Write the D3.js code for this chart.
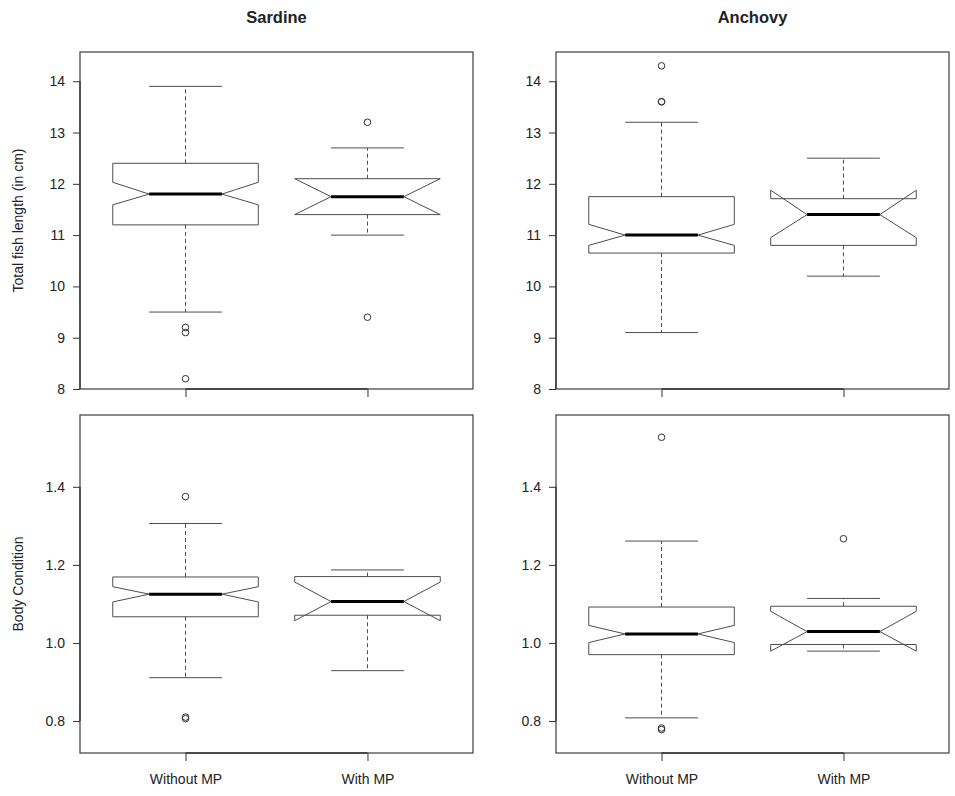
<!DOCTYPE html>
<html lang="en">
<head>
    <meta charset="UTF-8">
    <title>Notched boxplots</title>
    <script src="https://d3js.org/d3.v7.min.js"></script>
    <style>
        body { margin: 0; background: #fff; }
        text { font-family: 'Liberation Sans', Arial, Helvetica, sans-serif; fill: #222; }
    </style>
</head>
<body>
<script>
    // categories
    const groups = ["Without MP", "With MP"];
    const species = ["Sardine", "Anchovy"];

    // [lower whisker, Q1, median, Q3, upper whisker]
    const sardineLength = [[9.5, 11.2, 11.8, 12.4, 13.9], [11.0, 11.4, 11.75, 12.1, 12.7]];
    const anchovyLength = [[9.1, 10.65, 11.0, 11.75, 13.2], [10.2, 10.8, 11.4, 11.71, 12.5]];
    const sardineCond = [[0.911, 1.067, 1.125, 1.169, 1.306], [0.929, 1.071, 1.106, 1.17, 1.187]];
    const anchovyCond = [[0.808, 0.970, 1.023, 1.092, 1.261], [0.979, 0.996, 1.029, 1.094, 1.114]];

    // [lower notch, upper notch]
    const sardineLengthNotch = [[11.59, 12.03], [11.4, 12.1]];
    const anchovyLengthNotch = [[10.80, 11.21], [10.95, 11.875]];
    const sardineCondNotch = [[1.105, 1.144], [1.057, 1.156]];
    const anchovyCondNotch = [[1.001, 1.045], [0.979, 1.081]];

    // outliers
    const sardineLengthOut = [[9.2, 9.1, 8.2], [13.2, 9.4]];
    const anchovyLengthOut = [[14.3, 13.6, 13.6], []];
    const sardineCondOut = [[1.375, 0.81, 0.806], []];
    const anchovyCondOut = [[1.527, 0.782, 0.778], [1.267]];

    // y ticks
    const lengthTicks = [8, 9, 10, 11, 12, 13, 14];
    const condTicks = [0.8, 1.0, 1.2, 1.4];

    const panels = [
        {col: 0, row: 0, stats: sardineLength, notch: sardineLengthNotch, out: sardineLengthOut, title: species[0], ylab: "Total fish length (in cm)"},
        {col: 1, row: 0, stats: anchovyLength, notch: anchovyLengthNotch, out: anchovyLengthOut, title: species[1], ylab: null},
        {col: 0, row: 1, stats: sardineCond, notch: sardineCondNotch, out: sardineCondOut, title: null, ylab: "Body Condition"},
        {col: 1, row: 1, stats: anchovyCond, notch: anchovyCondNotch, out: anchovyCondOut, title: null, ylab: null}
    ];

    const colX = [[80, 473], [556, 949]];
    const rowY = [[52, 389], [415, 753]];
    const lineCol = "#4d4d4d";

    const svg = d3.select("body").append("svg")
        .attr("width", 955)
        .attr("height", 796);

    panels.forEach(function (p) {
        const [x0, x1] = colX[p.col];
        const [y0, y1] = rowY[p.row];

        const x = d3.scaleLinear().domain([0.42, 2.58]).range([x0, x1]);
        const y = p.row === 0
            ? d3.scaleLinear().domain([8, 14.57]).range([y1, y0])
            : d3.scaleLinear().domain([0.718, 1.584]).range([y1, y0]);
        const ticks = p.row === 0 ? lengthTicks : condTicks;
        const fmt = p.row === 0 ? d3.format("d") : d3.format(".1f");

        const g = svg.append("g");

        // boxes
        p.stats.forEach(function (s, i) {
            const c = i + 1;
            const [lo, q1, med, q3, hi] = s;
            const [nl, nh] = p.notch[i];
            const L = x(c - 0.4), R = x(c + 0.4);
            const iL = x(c - 0.2), iR = x(c + 0.2);

            // whiskers
            g.append("line")
                .attr("x1", x(c)).attr("x2", x(c))
                .attr("y1", y(q3)).attr("y2", y(hi))
                .attr("stroke", lineCol).attr("stroke-dasharray", "4,3");
            g.append("line")
                .attr("x1", x(c)).attr("x2", x(c))
                .attr("y1", y(q1)).attr("y2", y(lo))
                .attr("stroke", lineCol).attr("stroke-dasharray", "4,3");
            [lo, hi].forEach(function (v) {
                g.append("line")
                    .attr("x1", iL).attr("x2", iR)
                    .attr("y1", y(v)).attr("y2", y(v))
                    .attr("stroke", lineCol);
            });

            // notched box, same vertex order as R
            const pts = [
                [L, y(q1)], [L, y(nl)], [iL, y(med)], [L, y(nh)], [L, y(q3)],
                [R, y(q3)], [R, y(nh)], [iR, y(med)], [R, y(nl)], [R, y(q1)]
            ];
            g.append("path")
                .attr("d", d3.line()(pts) + "Z")
                .attr("fill", "none")
                .attr("stroke", lineCol)
                .attr("stroke-linejoin", "miter");

            // median
            g.append("line")
                .attr("x1", iL).attr("x2", iR)
                .attr("y1", y(med)).attr("y2", y(med))
                .attr("stroke", "#000").attr("stroke-width", 3);

            // outliers
            g.selectAll(null)
                .data(p.out[i])
                .enter().append("circle")
                .attr("cx", x(c))
                .attr("cy", d => y(d))
                .attr("r", 3.3)
                .attr("fill", "none")
                .attr("stroke", "#333");
        });

        // frame
        g.append("rect")
            .attr("x", x0).attr("y", y0)
            .attr("width", x1 - x0).attr("height", y1 - y0)
            .attr("fill", "none")
            .attr("stroke", lineCol)
            .attr("stroke-width", 1.3);

        // y axis
        const ya = g.append("g")
            .attr("transform", `translate(${x0},0)`)
            .call(d3.axisLeft(y).tickValues(ticks).tickFormat(fmt).tickSize(7).tickSizeOuter(0).tickPadding(8));
        ya.select(".domain").attr("stroke", "#333").attr("stroke-width", 1.3)
            .attr("d", `M0,${y(d3.min(ticks))}V${y(d3.max(ticks))}`);
        ya.selectAll(".tick line").attr("stroke", "#333");
        ya.selectAll("text").style("font-size", "14px").attr("fill", "#222")
            .style("font-family", "'Liberation Sans', Arial, sans-serif");

        // x axis
        const xa = g.append("g")
            .attr("transform", `translate(0,${y1})`)
            .call(d3.axisBottom(x).tickValues([1, 2]).tickFormat(d => p.row === 1 ? groups[d - 1] : "")
                .tickSize(8).tickSizeOuter(0).tickPadding(13));
        xa.select(".domain").attr("stroke", "#333").attr("stroke-width", 1.3)
            .attr("d", `M${x(1)},0H${x(2)}`);
        xa.selectAll(".tick line").attr("stroke", "#333");
        xa.selectAll("text").style("font-size", "14px").attr("fill", "#222")
            .style("font-family", "'Liberation Sans', Arial, sans-serif");

        // title
        if (p.title) {
            g.append("text")
                .attr("x", (x0 + x1) / 2)
                .attr("y", 23)
                .attr("text-anchor", "middle")
                .style("font-size", "16.5px")
                .style("font-weight", "bold")
                .text(p.title);
        }

        // y label
        if (p.ylab) {
            g.append("text")
                .attr("transform", `translate(23,${(y0 + y1) / 2}) rotate(-90)`)
                .attr("text-anchor", "middle")
                .style("font-size", "14px")
                .text(p.ylab);
        }
    });
</script>
</body>
</html>
